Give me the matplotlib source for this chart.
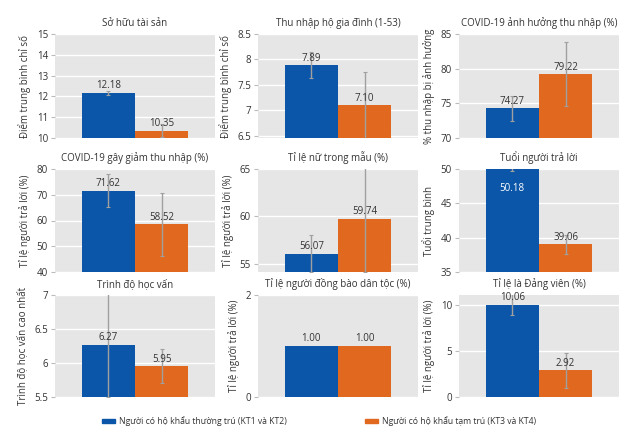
import matplotlib
matplotlib.use("Agg")
import matplotlib.pyplot as plt
from matplotlib.patches import Rectangle

plt.rcParams['font.family'] = ['Open Sans', 'DejaVu Sans']

BLUE = '#0b56a8'
ORANGE = '#e0691f'
BG = '#e6e6e7'
TXT = '#333333'

titles = ['Sở hữu tài sản', 'Thu nhập hộ gia đình (1-53)', 'COVID-19 ảnh hưởng thu nhập (%)',
          'COVID-19 gây giảm thu nhập (%)', 'Tỉ lệ nữ trong mẫu (%)', 'Tuổi người trả lời',
          'Trình độ học vấn', 'Tỉ lệ người đồng bào dân tộc (%)', 'Tỉ lệ là Đảng viên (%)']
ylabels = ['Điểm trung bình chỉ số', 'Điểm trung bình chỉ số', '% thu nhập bị ảnh hưởng',
           'Tỉ lệ người trả lời (%)', 'Tỉ lệ người trả lời (%)', 'Tuổi trung bình',
           'Trình độ học vấn cao nhất', 'Tỉ lệ người trả lời (%)', 'Tỉ lệ người trả lời (%)']
thuong_tru = [12.18, 7.89, 74.27, 71.62, 56.07, 50.18, 6.27, 1.00, 10.06]
tam_tru = [10.35, 7.10, 79.22, 58.52, 59.74, 39.06, 5.95, 1.00, 2.92]
err_thuong_tru = [0.1, 0.25, 1.75, 6.4, 1.95, 0.5, 0.77, 0, 1.15]
err_tam_tru = [0.3, 0.66, 4.6, 12.2, 5.6, 1.4, 0.25, 0, 1.9]
ylims = [(10, 15), (6.46, 8.5), (70, 85), (40, 80), (54.15, 65), (35, 50), (5.5, 7), (0, 2), (0, 11.1)]
yticks = [[10, 11, 12, 13, 14, 15], [6.5, 7, 7.5, 8, 8.5], [70, 75, 80, 85], [40, 50, 60, 70, 80],
          [55, 60, 65], [35, 40, 45, 50], [5.5, 6, 6.5, 7], [0, 2], [0, 5, 10]]
legend_labels = ['Người có hộ khẩu thường trú (KT1 và KT2)', 'Người có hộ khẩu tạm trú (KT3 và KT4)']

W, H = 630, 437
fig = plt.figure(figsize=(6.3, 4.37), dpi=100)

col_left = [55, 258, 459]
row_top = [34, 169, 295]
row_bot = [138, 272, 397]

for i in range(9):
    r, c = divmod(i, 3)
    x0 = col_left[c]
    ax = fig.add_axes([x0 / W, 1 - row_bot[r] / H, 160 / W, (row_bot[r] - row_top[r]) / H])
    ax.set_facecolor(BG)
    ax.set_axisbelow(True)
    ax.grid(axis='y', color='white', lw=1)
    for s in ax.spines.values():
        s.set_visible(False)
    vals = [thuong_tru[i], tam_tru[i]]
    errs = [err_thuong_tru[i], err_tam_tru[i]]
    ax.bar([0, 1], vals, width=1.0, color=[BLUE, ORANGE], zorder=2)
    if errs[0] > 0:
        ax.errorbar([0, 1], vals, yerr=errs, fmt='none', ecolor='#a0a0a0', elinewidth=1,
                    capsize=1.5, capthick=0.8, zorder=3, clip_on=True)
    ymin, ymax = ylims[i]
    off = (ymax - ymin) * 0.015
    for j, v in enumerate(vals):
        if i == 5 and j == 0:
            ax.text(j, v - (ymax - ymin) * 0.2, f'{v:.2f}', ha='center', va='center',
                    fontsize=7, color='white', zorder=4)
        else:
            ax.text(j, v + off, f'{v:.2f}', ha='center', va='bottom', fontsize=7,
                    color=TXT, zorder=4)
    ax.set_xlim(-1, 2)
    ax.set_ylim(ymin, ymax)
    ax.set_xticks([])
    ax.set_yticks(yticks[i])
    ax.set_yticklabels([f'{t:g}' for t in yticks[i]])
    ax.tick_params(axis='y', length=3, color='#bbbbbb', labelsize=7, labelcolor=TXT, pad=2)
    ax.set_title(titles[i], fontsize=7, color=TXT, pad=6)
    ax.set_ylabel(ylabels[i], fontsize=7, color=TXT, labelpad=4)

# legend drawn by hand so the swatches sit where they do in the original
for px, color, label in [(102, BLUE, legend_labels[0]), (365, ORANGE, legend_labels[1])]:
    fig.patches.append(Rectangle((px / W, 1 - 423 / H), 13 / W, 4 / H, color=color,
                                 transform=fig.transFigure, figure=fig))
    fig.text((px + 17) / W, 1 - 421 / H, label, fontsize=6.2, color=TXT, va='center', ha='left')

fig.savefig('out.png', dpi=100, facecolor='white')
